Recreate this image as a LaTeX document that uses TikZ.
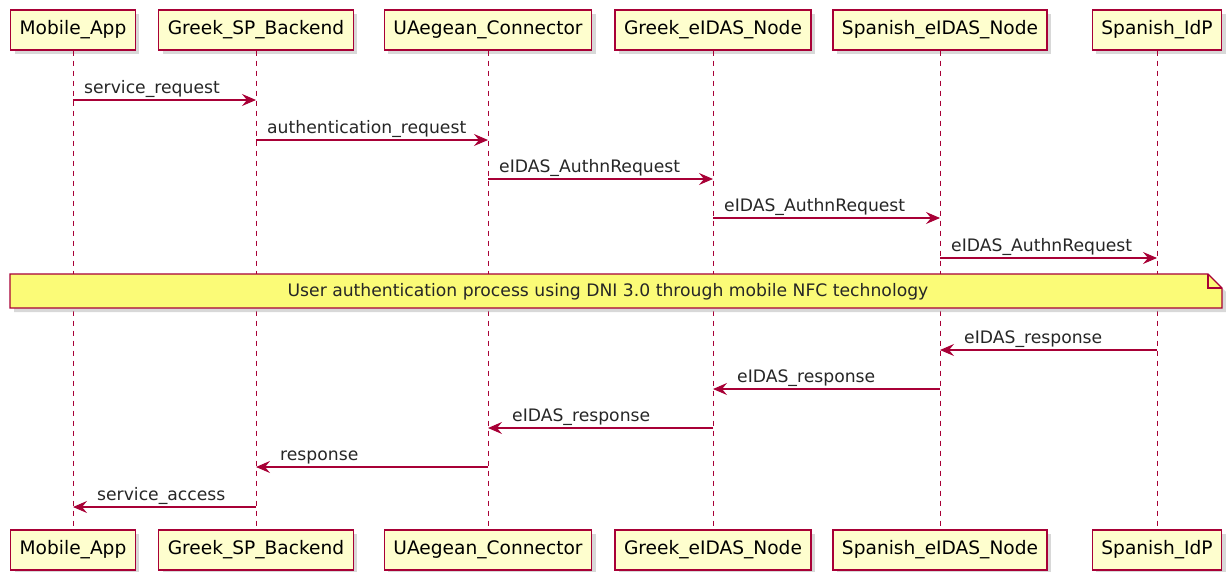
\documentclass[tikz,border=0pt]{standalone}
\usepackage{fontspec}
\setmainfont{DejaVu Sans}
\usetikzlibrary{arrows.meta,shadows}
\definecolor{umlRed}{HTML}{A80036}
\definecolor{umlBox}{HTML}{FEFECE}
\definecolor{umlNote}{HTML}{FBFB77}

\begin{document}
\begin{tikzpicture}[x=1pt,y=-1pt,
  actor/.style={draw=umlRed, fill=umlBox, line width=1.2pt, minimum height=40pt,
    inner xsep=9pt, font=\fontsize{18.6}{20}\selectfont,
    drop shadow={shadow xshift=4pt, shadow yshift=-4pt, fill=black!30}},
  lifeline/.style={umlRed, line width=0.9pt, dash pattern=on 5pt off 5pt},
  msg/.style={umlRed, line width=1.1pt, -{Stealth[length=14pt,width=12pt,inset=5pt]}},
  msglabel/.style={font=\fontsize{17.2}{19}\selectfont, text=black!85, inner sep=0pt, anchor=base west}]
\useasboundingbox (0,0) rectangle (1226,571);

% Participants and lifelines
\foreach \name/\txt/\x in {app/Mobile\_App/73, sp/Greek\_SP\_Backend/256,
    conn/UAegean\_Connector/488, grnode/Greek\_eIDAS\_Node/713,
    esnode/Spanish\_eIDAS\_Node/940, idp/Spanish\_IdP/1157} {
  \node[actor] (\name-top) at (\x,30) {\txt};
  \node[actor] (\name-bot) at (\x,550) {\txt};
  \draw[lifeline] (\name-top.south) -- (\name-bot.north);
}

% Requests
\foreach \src/\dst/\y/\txt in {app/sp/100/service\_request,
    sp/conn/140/authentication\_request, conn/grnode/179/eIDAS\_AuthnRequest,
    grnode/esnode/218/eIDAS\_AuthnRequest, esnode/idp/258/eIDAS\_AuthnRequest} {
  \coordinate (\src-\y) at (\src-top |- 0,\y);
  \coordinate (\dst-\y) at (\dst-top |- 0,\y);
  \draw[msg] (\src-\y) -- (\dst-\y);
  \node[msglabel] at ([xshift=11pt,yshift=7pt]\src-\y) {\txt};
}

% Note
\coordinate (note-nw) at (10,274);
\coordinate (note-se) at (1222,308);
\draw[umlRed, fill=umlNote, line width=1.1pt,
    drop shadow={shadow xshift=4pt, shadow yshift=-4pt, fill=black!30}]
  (note-nw) -- ([xshift=-14pt]note-nw -| note-se) -- ([yshift=-14pt]note-nw -| note-se)
  -- (note-se) -- (note-nw |- note-se) -- cycle;
\draw[umlRed, line width=1.1pt] ([xshift=-14pt]note-nw -| note-se)
  -- ([xshift=-14pt,yshift=-14pt]note-nw -| note-se) -- ([yshift=-14pt]note-nw -| note-se);
\node[font=\fontsize{17.2}{19}\selectfont, text=black!85] (note) at (608,292)
  {User authentication process using DNI 3.0 through mobile NFC technology};

% Responses
\foreach \src/\dst/\y/\txt in {idp/esnode/350/eIDAS\_response,
    esnode/grnode/389/eIDAS\_response, grnode/conn/428/eIDAS\_response,
    conn/sp/467/response, sp/app/507/service\_access} {
  \coordinate (\src-\y) at (\src-top |- 0,\y);
  \coordinate (\dst-\y) at (\dst-top |- 0,\y);
  \draw[msg] (\src-\y) -- (\dst-\y);
  \node[msglabel] at ([xshift=24pt,yshift=7pt]\dst-\y) {\txt};
}
\end{tikzpicture}
\end{document}
